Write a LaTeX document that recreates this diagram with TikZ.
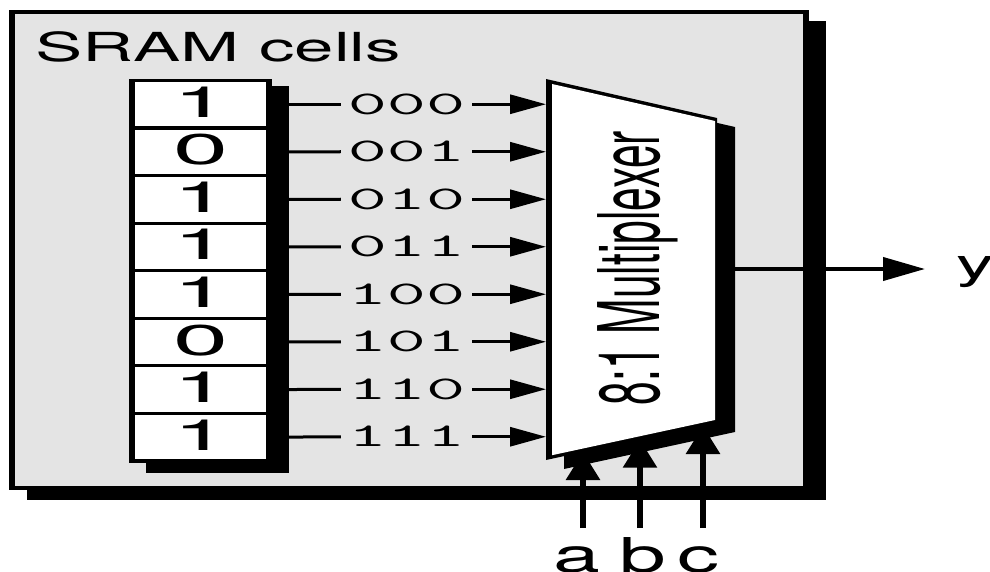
\documentclass[tikz,border=0pt]{standalone}
\usepackage{fontspec}
\setmainfont{TeX Gyre Heros}
\usepackage{graphicx}
\usetikzlibrary{arrows.meta}
\definecolor{boxgray}{HTML}{E4E4E4}
\newcommand\hstretch[2]{\scalebox{#1}[1]{#2}}
\tikzset{
  cellnode/.style={fill=white, inner sep=0pt, minimum width=131pt, minimum height=44.5pt,
    text height=31pt, text depth=0pt, font=\fontsize{43}{43}\selectfont},
  codelab/.style={inner sep=0pt, minimum width=131pt, text height=20pt, text depth=0pt,
    font=\ttfamily\fontsize{33}{33}\selectfont},
  inline/.style={line width=3pt},
  inarrow/.style={line width=3pt, -{Triangle[length=36pt,width=19pt]}},
  outarrow/.style={line width=4pt, -{Triangle[length=42pt,width=23pt]}},
  uparrow/.style={line width=6pt, -{Triangle[length=28pt,width=33pt]}},
  letter/.style={inner sep=0pt, anchor=base, font=\fontsize{48}{48}\selectfont},
}
\begin{document}
\begin{tikzpicture}[x=1pt,y=-1pt]
\useasboundingbox (0,0) rectangle (990,572);
% outer box with shadow
\fill[black] (27,21) rectangle (826,500);
\fill[black] (9,10) rectangle (809,490);
\fill[boxgray] (15,14) rectangle (803,486);
\node[anchor=base west, inner sep=0pt, font=\fontsize{40}{40}\selectfont] (title) at (35,62) {\hstretch{1.77}{SRAM cells}};
% SRAM column
\fill[black] (146,86) rectangle (289,473);
\fill[black] (129,79) rectangle (272,463);
\foreach \v [count=\i] in {1,0,1,1,1,0,1,1} {
  \node[cellnode] (c\i) at (200.5,{104.25+47.57*(\i-1)}) {\raisebox{2.5pt}{\hstretch{2.3}{\v}}};
}
% mux shape
\fill[black] (564,88) -- (735,127) -- (735,432) -- (564,469) -- cycle;
\fill[black] (546,79) -- (717,118) -- (717,423) -- (546,460) -- cycle;
\fill[white] (552,84) -- (715,121) -- (715,420) -- (552,455.2) -- cycle;
\node[rotate=90, inner sep=0pt, font=\fontsize{42.5}{42.5}\selectfont] (muxlab) at (638,268) {\scalebox{1}[2]{8:1 Multiplexer}};
% inputs
\foreach \v [count=\i] in {000,001,010,011,100,101,110,111} {
  \node[codelab] (l\i) at (406.5,{104.25+47.5*(\i-1)}) {\hstretch{2.3}{\v}};
  \coordinate (in\i) at (546,{104.25+47.5*(\i-1)});
  \draw[inline] (c\i.east) -- (l\i.west);
  \draw[inarrow] (l\i.east) -- (in\i);
}
% output
\coordinate (mout) at (717,269);
\node[anchor=west, inner sep=0pt, font=\fontsize{42}{42}\selectfont] (ylab) at (956,272.5) {\hstretch{1.8}{y}};
\coordinate (yend) at ([xshift=-31pt]ylab.west);
\draw[outarrow] (mout) -- (mout -| yend);
% select inputs
\node[letter] (la) at (576.5,572) {\hstretch{1.75}{a}};
\node[letter] (lb) at (643,572) {\hstretch{1.75}{b}};
\node[letter] (lc) at (698,572) {\hstretch{1.75}{c}};
\coordinate (sa) at (583,452);
\coordinate (sb) at (640,439.7);
\coordinate (sc) at (703,426);
\coordinate (ta) at (583,528);
\coordinate (tb) at (640,528);
\coordinate (tc) at (703,528);
\draw[uparrow] (ta) -- (sa);
\draw[uparrow] (tb) -- (sb);
\draw[uparrow] (tc) -- (sc);
\end{tikzpicture}
\end{document}
